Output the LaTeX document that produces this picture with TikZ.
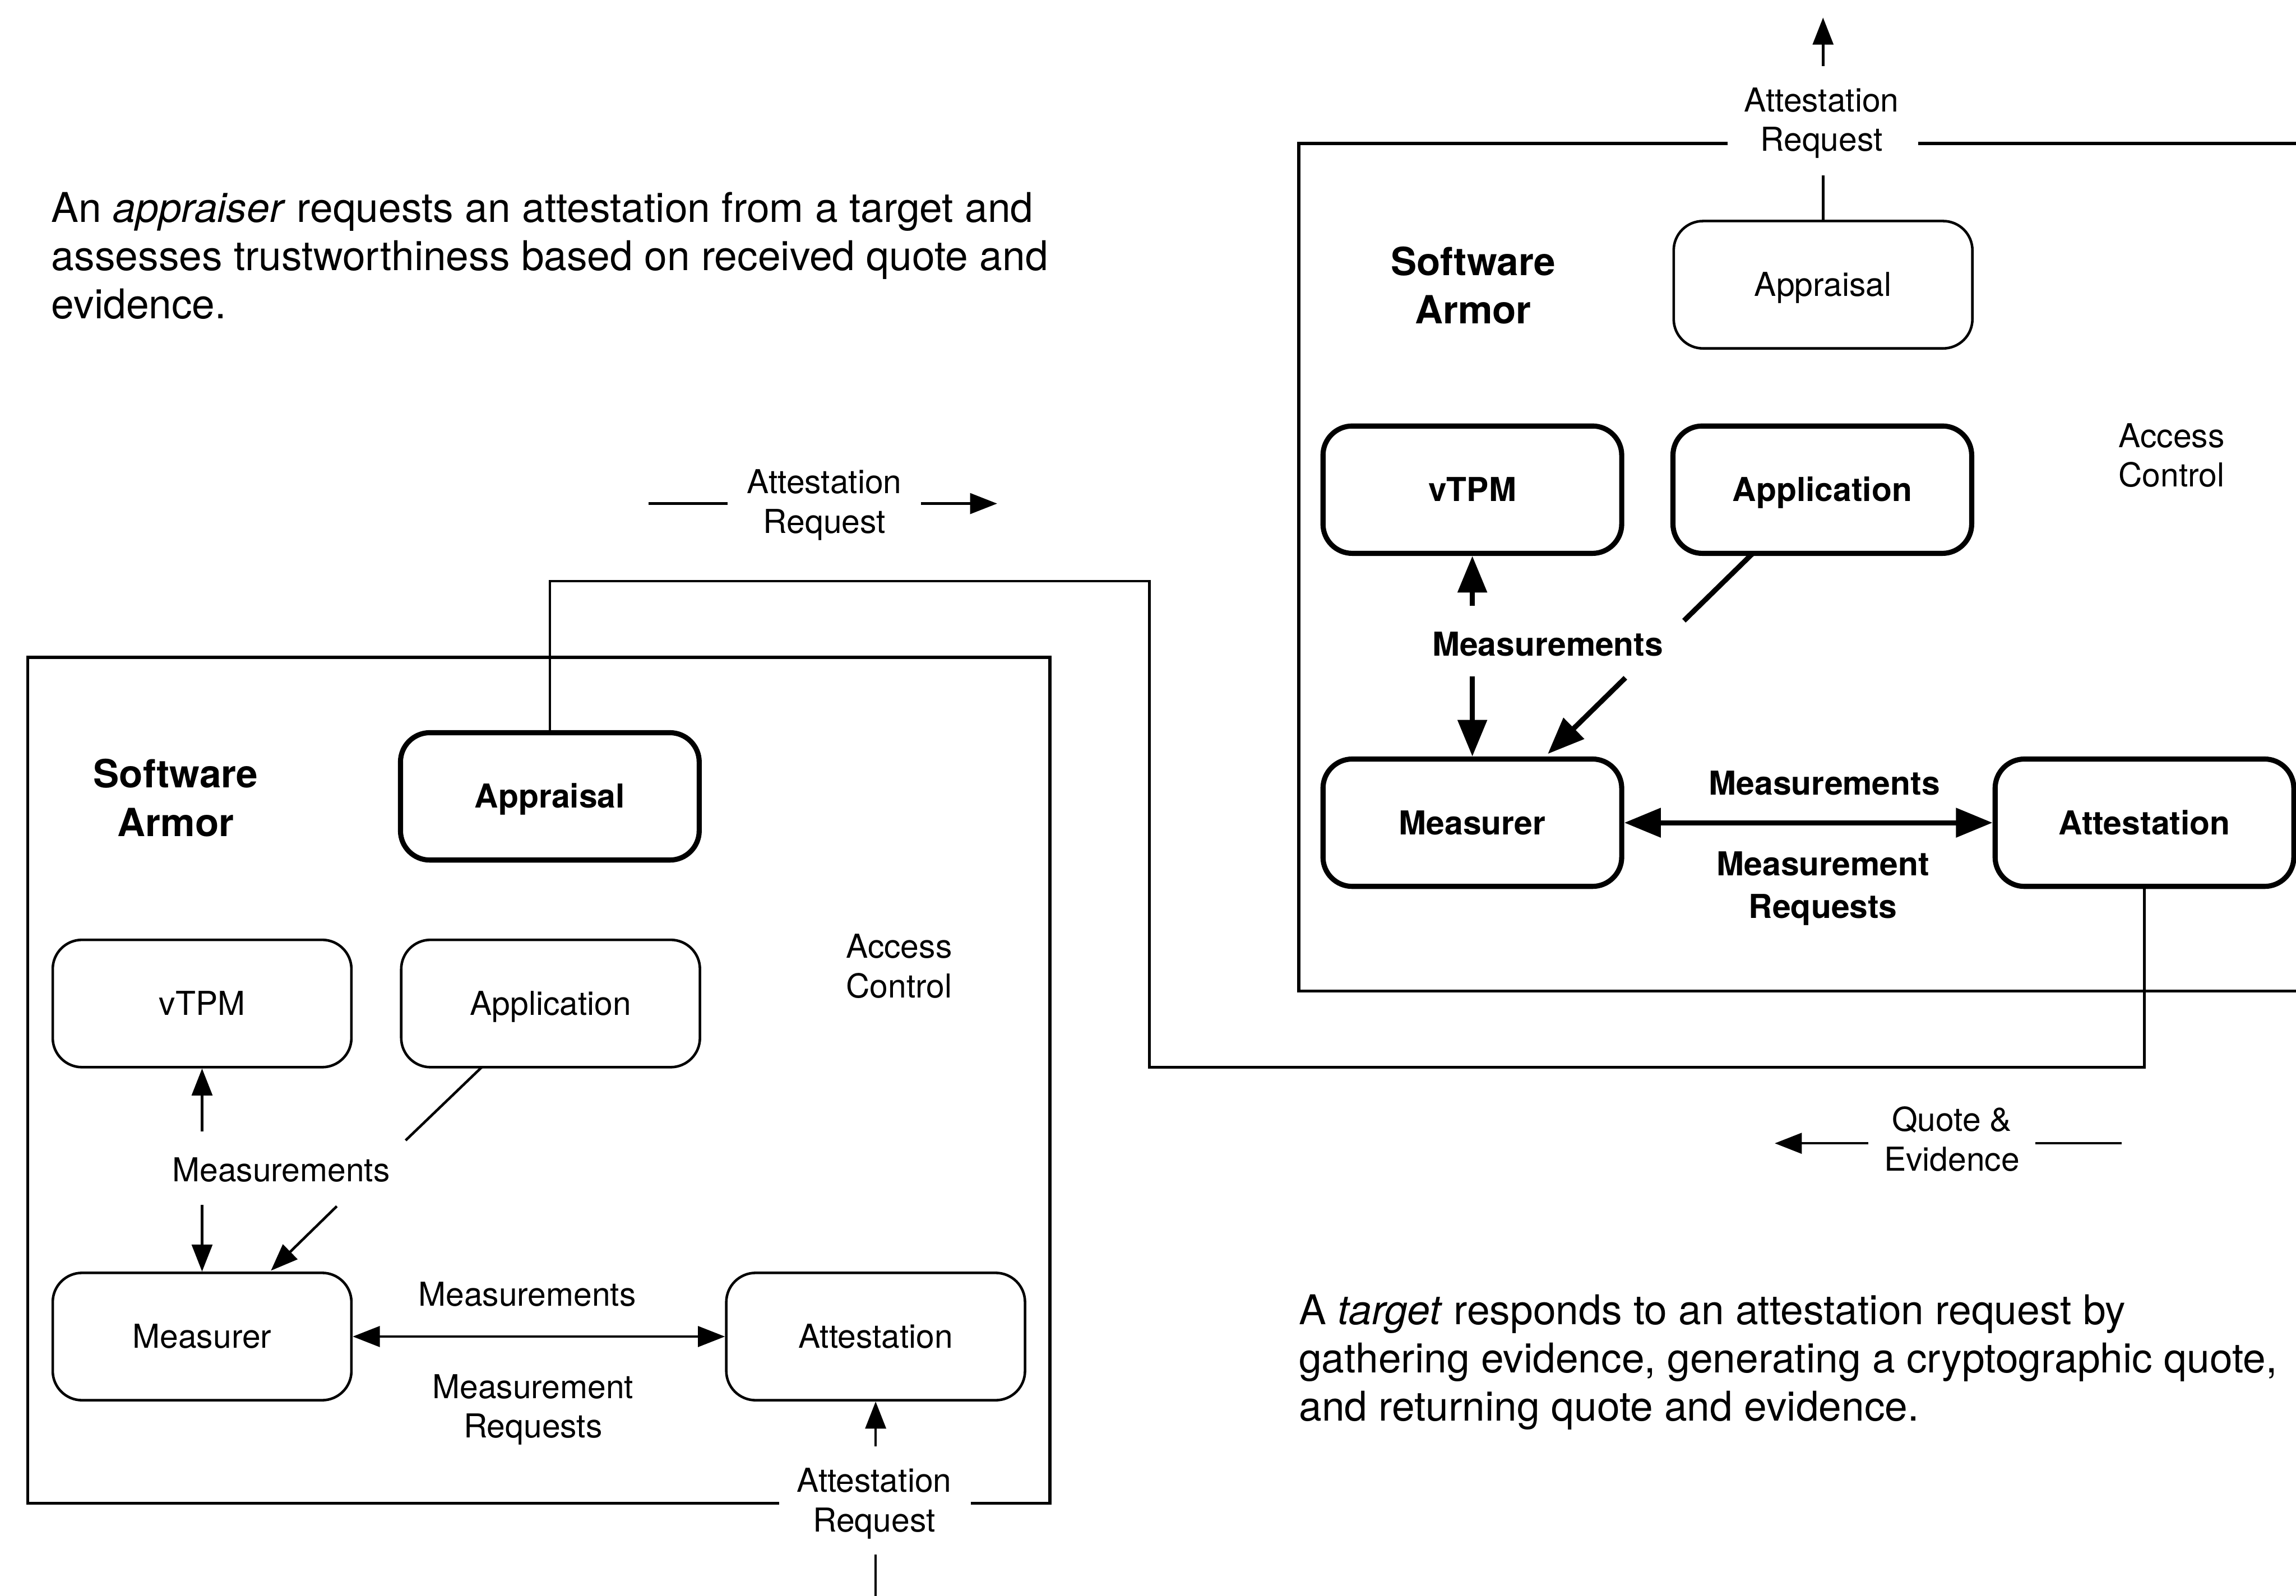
\documentclass[tikz,border=0pt]{standalone}
\usepackage{fontspec}
\setmainfont{TeX Gyre Heros}
\usetikzlibrary{arrows.meta}
\newcommand\dglab{\fontsize{22.5}{27}\selectfont}
\newcommand\dgblab{\fontsize{22.5}{29}\selectfont\bfseries}
\newcommand\dgsa{\fontsize{26.5}{33}\selectfont\bfseries}
\newcommand\dgpara{\fontsize{28}{33}\selectfont}
\begin{document}
\begin{tikzpicture}[x=1pt,y=-1pt,
  thinln/.style={line width=1.75pt},
  thickln/.style={line width=3.5pt},
  frameln/.style={line width=2pt},
  thinarr/.style={thinln,-{Triangle[length=18.5pt,width=14pt]}},
  thickarr/.style={thickln,-{Triangle[length=25pt,width=19.5pt]}},
  thinbox/.style={draw,thinln,rounded corners=20pt,minimum width=204pt,minimum height=87pt,inner sep=0pt,text height=16pt,text depth=0pt,font=\dglab},
  thickbox/.style={draw,thickln,rounded corners=20pt,minimum width=204pt,minimum height=87pt,inner sep=0pt,text height=16pt,text depth=0pt,font=\dgblab},
  lbl/.style={align=center,inner sep=0pt,font=\dglab},
  blbl/.style={align=center,inner sep=0pt,font=\dgblab},
  salbl/.style={align=center,inner sep=0pt,font=\dgsa},
  para/.style={align=left,inner sep=0pt,anchor=north west,font=\dgpara},
]
\useasboundingbox (0,0) rectangle (1568,1090);
\clip (0,0) rectangle (1568,1090);
\fill[white] (0,0) rectangle (1568,1090);

% paragraphs
\node[para] (ptop) at (35,131) {An \emph{appraiser} requests an attestation from a target and\\assesses trustworthiness based on received quote and\\evidence.};
\node[para] (pbot) at (887,884) {A \emph{target} responds to an attestation request by\\gathering evidence, generating a cryptographic quote,\\and returning quote and evidence.};

% ---------- left panel (appraiser) ----------
\draw[frameln] (532,1027) -- (19,1027) -- (19,449) -- (717,449) -- (717,1027) -- (663,1027);
\node[salbl] (lsa) at (120,545) {Software\\Armor};
\node[thickbox] (lapp) at (375.5,544) {Appraisal};
\node[thinbox] (lvtpm) at (138,685.5) {vTPM};
\node[thinbox] (lappl) at (376,685.5) {Application};
\node[lbl] (lac) at (614,660) {Access\\Control};
\node[thinbox] (lmeas) at (138,913) {Measurer};
\node[thinbox] (latt) at (598,913) {Attestation};
\node[lbl] (lml) at (192,799) {Measurements};
\node[lbl] (lmt) at (360,884) {Measurements};
\node[lbl] (lmr) at (364,963) {Measurement\\Requests};
\node[lbl] (lar) at (597,1027) {Attestation\\Request};
\node[lbl] (tar) at (563,345) {Attestation\\Request};
\node[lbl] (qe) at (1333,778) {Quote \&\\Evidence};

\coordinate (l1) at (138,773);
\coordinate (l2) at (138,823);
\coordinate (l3) at (329,729);
\coordinate (l4) at (277,779);
\coordinate (l5) at (230,824);
\coordinate (l6) at (185,868);
\coordinate (l7) at (598,988);
\coordinate (l8) at (598,1062);
\coordinate (l9) at (598,1095);
\draw[thinarr] (l1) -- (lvtpm.south);
\draw[thinarr] (l2) -- (lmeas.north);
\draw[thinln] (l3) -- (l4);
\draw[thinarr] (l5) -- (l6);
\draw[thinln,{Triangle[length=18.5pt,width=14pt]}-{Triangle[length=18.5pt,width=14pt]}] (lmeas.east) -- (latt.west);
\draw[thinarr] (l7) -- (latt.south);
\draw[thinln] (l8) -- (l9);

% request / quote indicators
\coordinate (t1) at (443,344);
\coordinate (t2) at (497,344);
\coordinate (t3) at (629,344);
\coordinate (t4) at (681,344);
\draw[thinln] (t1) -- (t2);
\draw[thinarr] (t3) -- (t4);
\coordinate (q1) at (1276,781);
\coordinate (q2) at (1212,781);
\coordinate (q3) at (1390,781);
\coordinate (q4) at (1449,781);
\draw[thinarr] (q1) -- (q2);
\draw[thinln] (q3) -- (q4);

% ---------- right panel (target) ----------
\draw[frameln] (1180,98) -- (887,98) -- (887,677) -- (1590,677);
\draw[frameln] (1310,98) -- (1590,98);
\node[salbl] (rsa) at (1006,195) {Software\\Armor};
\node[thinbox] (rapp) at (1245,194.5) {Appraisal};
\node[lbl] (rar) at (1244,84) {Attestation\\Request};
\node[thickbox] (rvtpm) at (1005.5,334.5) {vTPM};
\node[thickbox] (rappl) at (1244.5,334.5) {Application};
\node[lbl] (rac) at (1483,311) {Access\\Control};
\node[blbl] (rml) at (1057,440) {Measurements};
\node[thickbox] (rmeas) at (1005.5,562) {Measurer};
\node[thickbox] (ratt) at (1464.5,562) {Attestation};
\node[blbl] (rmt) at (1246,535) {Measurements};
\node[blbl] (rmr) at (1245,607) {Measurement\\Requests};

\coordinate (r1) at (1245,120);
\coordinate (r2) at (1245,45);
\coordinate (r3) at (1245,12);
\coordinate (r4) at (1005.5,414);
\coordinate (r5) at (1005.5,462);
\coordinate (r6) at (1197,378);
\coordinate (r7) at (1150,424);
\coordinate (r8) at (1110,463);
\coordinate (r9) at (1057,515);
\draw[thinln] (rapp.north) -- (r1);
\draw[thinarr] (r2) -- (r3);
\draw[thickarr] (r4) -- (rvtpm.south);
\draw[thickarr] (r5) -- (rmeas.north);
\draw[thickln] (r6) -- (r7);
\draw[thickarr] (r8) -- (r9);
\draw[thickln,{Triangle[length=25pt,width=19.5pt]}-{Triangle[length=25pt,width=19.5pt]}] (rmeas.east) -- (ratt.west);

% ---------- request/response path between the two ----------
\coordinate (j1) at (785,397);
\coordinate (j2) at (785,729);
\draw[thinln] (lapp.north) |- (j1) -- (j2) -| (ratt.south);
\end{tikzpicture}
\end{document}
